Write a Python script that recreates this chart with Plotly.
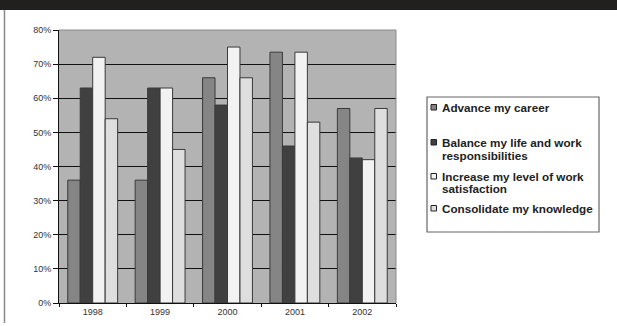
import plotly.graph_objects as go

years = ["1998", "1999", "2000", "2001", "2002"]
series_names = [
    "Advance my career",
    "Balance my life and work responsibilities",
    "Increase my level of work satisfaction",
    "Consolidate my knowledge",
]
legend_lines = [
    ["Advance my career"],
    ["Balance my life and work", "responsibilities"],
    ["Increase my level of work", "satisfaction"],
    ["Consolidate my knowledge"],
]
advance = [36, 36, 66, 73.5, 57]
balance = [63, 63, 58, 46, 42.5]
increase = [72, 63, 75, 73.5, 42]
consolidate = [54, 45, 66, 53, 57]
colors = ["#858585", "#404040", "#f2f2f2", "#dedede"]
ytick_vals = [0, 10, 20, 30, 40, 50, 60, 70, 80]
ytick_text = ["0%", "10%", "20%", "30%", "40%", "50%", "60%", "70%", "80%"]

fig = go.Figure()
for name, vals, col in zip(series_names, [advance, balance, increase, consolidate], colors):
    fig.add_trace(go.Bar(
        x=years, y=vals, name=name, showlegend=False,
        marker=dict(color=col, line=dict(color="#3a3a3a", width=1)),
    ))

W, H = 617, 326
l, r, t, b = 59, 221, 30, 23
pw, ph = W - l - r, H - t - b

def px(xp):
    return (xp - l) / pw

def py(yp):
    return (H - b - yp) / ph

shapes = [
    dict(type="line", xref="paper", yref="y", x0=0, x1=1, y0=50, y1=50,
         line=dict(color="#c4c4c4", width=1), layer="between"),
    dict(type="line", xref="paper", yref="paper", x0=0, x1=1, y0=1, y1=1,
         line=dict(color="#8a8a8a", width=1)),
    dict(type="line", xref="paper", yref="paper", x0=1, x1=1, y0=0, y1=1,
         line=dict(color="#8a8a8a", width=1)),
    dict(type="rect", xref="paper", yref="paper", x0=px(-2), x1=px(W + 2), y0=py(10), y1=py(-2),
         fillcolor="#221f1f", line=dict(width=0)),
    dict(type="line", xref="paper", yref="paper", x0=px(4.5), x1=px(4.5), y0=py(10), y1=py(323),
         line=dict(color="#8a8a8a", width=1.5)),
    # legend box
    dict(type="rect", xref="paper", yref="paper", x0=px(427), x1=px(599), y0=py(232), y1=py(97),
         fillcolor="white", line=dict(color="#666", width=1.2)),
]

annotations = []
item_line_y = [[107], [142, 155], [176, 189], [208]]
for lines, ys, col in zip(legend_lines, item_line_y, colors):
    sq_y = ys[0]
    shapes.append(dict(type="rect", xref="paper", yref="paper",
                       x0=px(431), x1=px(436.5), y0=py(sq_y + 3), y1=py(sq_y - 2.5),
                       fillcolor=col, line=dict(color="#222", width=1)))
    for txt, yy in zip(lines, ys):
        annotations.append(dict(
            xref="paper", yref="paper", x=px(440), y=py(yy),
            xanchor="left", yanchor="middle", showarrow=False, text=txt,
            font=dict(size=11.7, color="#222", family="Liberation Sans, Arial, sans-serif", weight="bold"),
        ))

fig.update_layout(
    width=W, height=H,
    margin=dict(l=l, r=r, t=t, b=b, pad=0, autoexpand=False),
    paper_bgcolor="white",
    plot_bgcolor="#b3b3b3",
    barmode="group",
    bargap=0.26,
    bargroupgap=0,
    showlegend=False,
    font=dict(family="Liberation Sans, Arial, sans-serif", size=9, color="#333"),
    xaxis=dict(
        showgrid=False, showline=True, linecolor="#111", linewidth=1,
        ticks="outside", ticklen=3, tickcolor="#111", tickson="boundaries",
        tickfont=dict(size=9, color="#333"),
    ),
    yaxis=dict(
        range=[0, 80], tickvals=ytick_vals, ticktext=ytick_text,
        showgrid=True, gridcolor="#111", gridwidth=1,
        showline=True, linecolor="#111", linewidth=1,
        ticks="outside", ticklen=5, tickcolor="#111",
        tickfont=dict(size=9, color="#333"),
        zeroline=False,
    ),
    shapes=shapes,
    annotations=annotations,
)

fig.write_html(
    "out.html",
    post_script="document.body.style.margin='0';document.documentElement.style.overflow='hidden';document.body.style.overflow='hidden';",
)
